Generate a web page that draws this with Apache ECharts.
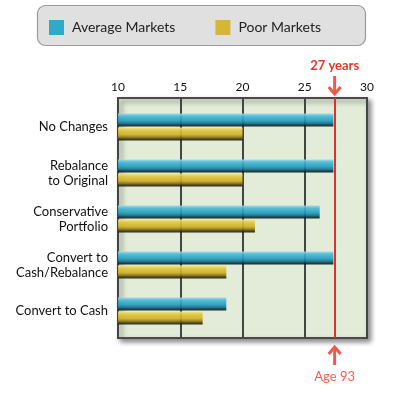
<!DOCTYPE html>
<html><head><meta charset="utf-8">
<script src="https://cdn.jsdelivr.net/npm/echarts@6/dist/echarts.min.js"></script>
<style>html,body{margin:0;padding:0;background:#fff}#c{width:394px;height:393px}</style>
</head><body><div id="c"></div>
<script>
const categories = ['No Changes', 'Rebalance\nto Original', 'Conservative\nPortfolio', 'Convert to\nCash/Rebalance', 'Convert to Cash'];
const averageMarkets = [27.3, 27.3, 26.2, 27.3, 18.7];
const poorMarkets = [20.0, 20.0, 21.0, 18.7, 16.8];
const xTicks = [10, 15, 20, 25, 30];
const targetYears = 27.4;
const topNote = '27 years';
const bottomNote = 'Age 93';

const FONT = 'Lato';
const chart = echarts.init(document.getElementById('c'), null, {renderer: 'canvas'});

function grad(stops) {
  return new echarts.graphic.LinearGradient(0, 0, 0, 1, stops.map((c) => ({offset: c[0], color: c[1]})));
}
const blueGrad = grad([[0, '#9adbe9'], [0.22, '#45b6d3'], [0.55, '#1f9cc0'], [0.75, '#16708a'], [0.88, '#0c3340'], [1, '#061a20']]);
const yellowGrad = grad([[0, '#f6e585'], [0.22, '#e0c53c'], [0.55, '#cfae20'], [0.75, '#8a7416'], [0.88, '#3e340b'], [1, '#1e1905']]);

const boxRect = {type: 'rect', z: -1, shape: {x: 37.5, y: 5.5, width: 328, height: 40, r: 8},
  style: {fill: '#e0e0e0', stroke: '#9a9a9a', lineWidth: 1.2}};

const option = {
  animation: false,
  textStyle: {fontFamily: FONT},
  legend: {
    left: 44, top: 15, itemWidth: 15, itemHeight: 15, itemGap: 40,
    icon: 'rect',
    textStyle: {fontFamily: FONT, fontSize: 14, color: '#222', padding: [0, 0, 0, 3]},
    data: [
      {name: 'Average Markets', itemStyle: {color: '#1ea3c6'}},
      {name: 'Poor Markets', itemStyle: {color: '#d4b320'}}
    ]
  },
  grid: [
    {left: 118, right: 27, top: 98, bottom: 55, show: true, backgroundColor: '#e2ecd8',
     borderColor: '#4a4a4a', borderWidth: 2, shadowColor: 'rgba(0,0,0,0.45)', shadowBlur: 5, shadowOffsetX: 3, shadowOffsetY: 3},
    {left: 118, right: 27, top: 104, bottom: 59}
  ],
  xAxis: [
    {gridIndex: 0, type: 'value', position: 'top', min: xTicks[0], max: xTicks[xTicks.length - 1], interval: 5,
     axisLine: {show: false}, axisTick: {show: false},
     axisLabel: {fontFamily: FONT, fontSize: 12, color: '#111', margin: 5},
     splitLine: {show: true, lineStyle: {color: '#444', width: 2}}},
    {gridIndex: 1, type: 'value', min: xTicks[0], max: xTicks[xTicks.length - 1], show: false}
  ],
  yAxis: [
    {gridIndex: 0, type: 'value', show: false},
    {gridIndex: 1, type: 'category', data: categories, inverse: true,
     axisLine: {show: false}, axisTick: {show: false}, splitLine: {show: false},
     axisLabel: {fontFamily: FONT, fontSize: 13, color: '#111', margin: 10, lineHeight: 15, align: 'right'}}
  ],
  series: [
    {name: 'Average Markets', type: 'bar', xAxisIndex: 1, yAxisIndex: 1, data: averageMarkets,
     barWidth: 13, barGap: '8%', itemStyle: {color: blueGrad, opacity: 0.9, shadowColor: 'rgba(0,0,0,0.3)', shadowBlur: 2, shadowOffsetX: 1, shadowOffsetY: 1}},
    {name: 'Poor Markets', type: 'bar', xAxisIndex: 1, yAxisIndex: 1, data: poorMarkets,
     barWidth: 13, barGap: '8%', itemStyle: {color: yellowGrad, opacity: 0.9, shadowColor: 'rgba(0,0,0,0.3)', shadowBlur: 2, shadowOffsetX: 1, shadowOffsetY: 1}},
    {name: 'target', type: 'line', xAxisIndex: 0, yAxisIndex: 0, data: [], silent: true,
     markLine: {silent: true, symbol: 'none', label: {show: false},
       lineStyle: {color: '#e0302a', width: 2, type: 'solid'}, data: [{xAxis: targetYears}]}}
  ],
  graphic: [boxRect]
};
chart.setOption(option);

const px = chart.convertToPixel({xAxisIndex: 0}, targetYears);
const arrowColor = '#ec5a4c';
chart.setOption({
  graphic: [
    boxRect,
    {type: 'text', x: px, y: 66, style: {text: topNote, fill: '#e3392c', font: 'bold 13px ' + FONT, align: 'center', verticalAlign: 'middle'}},
    {type: 'polyline', shape: {points: [[px, 76], [px, 94]]}, style: {stroke: arrowColor, lineWidth: 3}},
    {type: 'polyline', shape: {points: [[px - 6, 87], [px, 94], [px + 6, 87]]}, style: {stroke: arrowColor, lineWidth: 3, fill: null}},
    {type: 'polyline', shape: {points: [[px, 347], [px, 365]]}, style: {stroke: arrowColor, lineWidth: 3}},
    {type: 'polyline', shape: {points: [[px - 6, 354], [px, 347], [px + 6, 354]]}, style: {stroke: arrowColor, lineWidth: 3, fill: null}},
    {type: 'text', x: px, y: 377, style: {text: bottomNote, fill: '#f0604f', font: '13px ' + FONT, align: 'center', verticalAlign: 'middle'}}
  ]
});
</script></body></html>
